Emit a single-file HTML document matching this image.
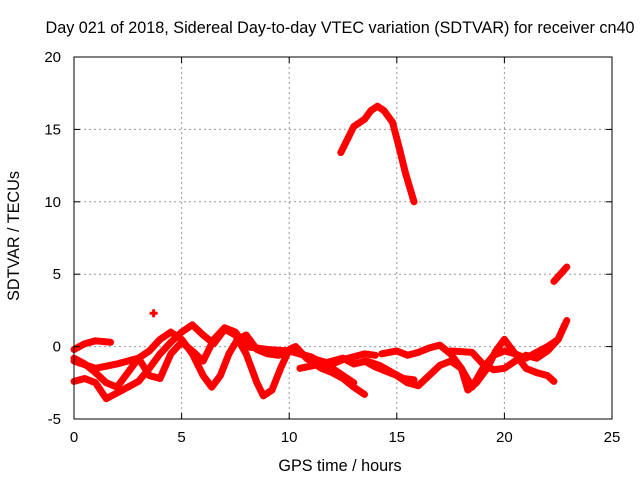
<!DOCTYPE html>
<html><head><meta charset="utf-8"><style>
body{margin:0;background:#fff;}
svg text{font-family:"Liberation Sans",sans-serif;font-size:15px;fill:#000;}
</style></head><body>
<svg id="chart" width="640" height="480">
<g id="grid"></g><g id="series"></g>
<rect x="74" y="57" width="538" height="362" fill="none" stroke="#000" stroke-width="1"/>
<g id="axes"></g>
<text x="340" y="33" text-anchor="middle" style="font-size:16.2px">Day 021 of 2018, Sidereal Day-to-day VTEC variation (SDTVAR) for receiver cn40</text>
<text x="340" y="471" text-anchor="middle" style="font-size:16.2px">GPS time / hours</text>
<text transform="translate(19,236) rotate(-90)" text-anchor="middle" style="font-size:16.2px">SDTVAR / TECUs</text>
</svg>
<script>
const xTicks=[0,5,10,15,20,25];
const yTicks=[-5,0,5,10,15,20];
const trackA=[[0,-0.2],[0.5,0.2],[1,0.4],[1.7,0.3]];
const trackB=[[0,-0.8],[0.5,-1.2],[1,-1.8],[1.5,-2.5],[2,-2.8],[2.5,-1.8],[3,-0.8],[3.5,-0.3],[4,0.5],[4.5,1.0],[5,0.5],[5.5,-0.5],[6,-2],[6.4,-2.8],[6.8,-2],[7.2,-0.5],[7.6,0.5],[8,0.8],[8.5,-0.2],[9,-0.5],[9.5,-0.6],[10,-0.3],[10.5,-0.5],[11,-0.8],[11.5,-1],[12,-1.2],[12.5,-0.9],[13,-0.7],[13.5,-0.5],[14,-0.6]];
const trackC=[[0,-2.4],[0.5,-2.2],[1,-2.5],[1.5,-3.6],[2,-3.2],[2.5,-2.8],[3,-2.4],[3.5,-1.5],[4,-0.5],[4.5,0.3],[5,1.0],[5.5,1.5],[6,0.8],[6.5,0.2],[7,1.2],[7.5,0.8],[8,-0.5],[8.5,-2.5],[8.8,-3.4],[9.2,-3],[9.6,-1.5],[10,-0.2],[10.3,0],[10.8,-0.8],[11.5,-1.5],[12,-1.8],[12.5,-2.2],[13,-2.8],[13.5,-3.3]];
const trackD=[[0,-1.0],[1,-1.5],[2,-1.2],[3,-0.8],[3.5,-2],[4,-2.2],[4.5,-0.5],[5,0.3],[5.5,-0.3],[6,-1],[6.5,0.5],[7,1.3],[7.5,1.0],[8,0],[9,-0.2],[10,-0.3],[11,-0.7],[12,-1.5],[12.5,-2],[13,-2.5]];
const trackE=[[10.5,-1.5],[11.5,-1.2],[12.5,-0.8],[13,-1.2],[13.6,-1.0],[14.2,-1.3],[14.8,-1.8],[15.3,-2.2],[15.8,-2.3]];
const trackF=[[14.3,-0.5],[15,-0.3],[15.5,-0.6],[16,-0.4],[16.5,-0.1],[17,0.1],[17.5,-0.5],[18,-1.5],[18.5,-2.8],[19,-1.5],[19.5,-0.6],[20,-0.3],[20.5,-0.5],[21,-0.8],[21.5,-0.4],[22,0],[22.5,0.5],[22.8,1.5]];
const trackG=[[13.5,-1],[14,-1.4],[14.5,-1.7],[15,-2],[15.5,-2.5],[16,-2.7],[16.5,-2],[17,-1.3],[17.5,-1],[18,-1.5],[18.3,-3],[18.7,-2.5],[19.2,-1.5],[19.6,-0.3],[20,0.5],[20.5,-0.5],[21,-1.5],[21.5,-1.8],[22,-2],[22.3,-2.4]];
const trackH=[[17.5,-0.3],[18.5,-0.4],[19,-1.2],[19.5,-1.6],[20,-1.5],[20.5,-1],[21,-0.6],[21.5,-0.8],[22,-0.3],[22.5,0.5],[22.9,1.8]];
const trackArc=[[12.4,13.4],[12.7,14.3],[13,15.2],[13.5,15.7],[13.8,16.3],[14.1,16.6],[14.4,16.3],[14.8,15.5],[15.1,13.8],[15.4,12],[15.8,10]];
const trackShort=[[22.3,4.5],[22.9,5.5]];
const isolated=[[3.7,2.3]];
const tracks=[trackA,trackB,trackC,trackD,trackE,trackF,trackG,trackH,trackArc,trackShort];

const NS="http://www.w3.org/2000/svg";
const X0=74,X1=612,Y0=419,Y1=57;
function sx(v){return X0+(v-0)/(25-0)*(X1-X0);}
function sy(v){return Y0-(v+5)/(25)*(Y0-Y1);}
function mk(tag,attrs,parent){const e=document.createElementNS(NS,tag);for(const k in attrs)e.setAttribute(k,attrs[k]);parent.appendChild(e);return e;}
const grid=document.getElementById('grid'),axes=document.getElementById('axes'),ser=document.getElementById('series');
xTicks.forEach(t=>{
  const x=sx(t);
  if(t>0&&t<25){const g=mk('line',{x1:x,x2:x,y1:Y1,y2:Y0,stroke:'#999','stroke-dasharray':'2,3'},grid);
  
  }
  mk('line',{x1:x,x2:x,y1:Y0,y2:Y0-6,stroke:'#000'},axes);
  mk('line',{x1:x,x2:x,y1:Y1,y2:Y1+6,stroke:'#000'},axes);
  const l=mk('text',{x:x,y:Y0+23,'text-anchor':'middle'},axes);l.textContent=t;
  
  
});
yTicks.forEach(t=>{
  const y=sy(t);
  if(t>-5&&t<20){const g=mk('line',{x1:X0,x2:X1,y1:y,y2:y,stroke:'#999','stroke-dasharray':'2,3'},grid);
  
  }
  mk('line',{x1:X0,x2:X0+6,y1:y,y2:y,stroke:'#000'},axes);
  mk('line',{x1:X1,x2:X1-6,y1:y,y2:y,stroke:'#000'},axes);
  const l=mk('text',{x:X0-13,y:y+5,'text-anchor':'end'},axes);l.textContent=t;
  
  
});
tracks.forEach(tr=>{
  const p=mk('polyline',{points:tr.map(d=>sx(d[0])+','+sy(d[1])).join(' '),fill:'none',stroke:'#f00','stroke-width':7,'stroke-linejoin':'round','stroke-linecap':'round'},ser);
  
  
});
isolated.forEach(d=>{
  const p=mk('path',{d:`M${sx(d[0])-4},${sy(d[1])}h8M${sx(d[0])},${sy(d[1])-4}v8`,stroke:'#f00','stroke-width':3},ser);
  
  
});
</script>
</body></html>
